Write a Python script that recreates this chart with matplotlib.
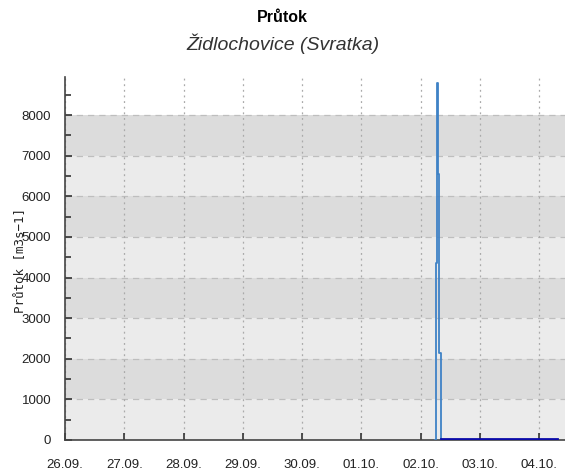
import matplotlib
matplotlib.use('Agg')
import matplotlib.pyplot as plt
import matplotlib.dates as mdates
import pandas as pd

plt.rcParams['font.family'] = ['Liberation Sans', 'DejaVu Sans']

# Step 1 : data
spike_times = ['2024-10-02 05:50', '2024-10-02 06:00', '2024-10-02 06:30',
               '2024-10-02 06:50', '2024-10-02 07:30', '2024-10-02 08:00']
spike_flow = [0, 4360, 8790, 6550, 2150, 0]

base_times = ['2024-10-02 08:10', '2024-10-02 18:00', '2024-10-03 06:00',
              '2024-10-03 18:00', '2024-10-04 07:00']
base_flow = [20, 20, 20, 20, 20]

title = 'Průtok'
subtitle = 'Židlochovice (Svratka)'
ylabel = 'Průtok [m3s\u22121]'

x_start = pd.Timestamp('2024-09-26 00:00')
x_end = pd.Timestamp('2024-10-04 10:22')

spike_t = pd.to_datetime(spike_times)
base_t = pd.to_datetime(base_times)

# Step 2 : figure
fig = plt.figure(figsize=(5.65, 4.72), dpi=100)
ax = fig.add_axes([0.115, 0.068, 0.885, 0.769])

# alternating bands
for lo in range(0, 8000, 1000):
    col = '#EBEBEB' if (lo // 1000) % 2 == 0 else '#DCDCDC'
    ax.axhspan(lo, lo + 1000, color=col, zorder=0, lw=0)
for y in range(1000, 9000, 1000):
    ax.axhline(y, color='#BEBEBE', linestyle=(0, (5, 4)), lw=0.9, zorder=1)

ax.plot(spike_t, spike_flow, color='#3F82C6', lw=1.3, drawstyle='steps-post', zorder=3)
ax.plot(base_t, base_flow, color='#0A0AA8', lw=2, zorder=3)

ax.set_xlim(x_start, x_end)
ax.set_ylim(0, 8940)

ax.xaxis.set_major_locator(mdates.DayLocator())
ax.xaxis.set_major_formatter(mdates.DateFormatter('%d.%m.'))
ax.grid(axis='x', color='#AAAAAA', linestyle=(0, (1.5, 3)), lw=0.9, zorder=1)

ax.set_yticks(range(0, 9000, 1000))
ax.set_yticks(range(500, 9000, 1000), minor=True)

for s in ['top', 'right']:
    ax.spines[s].set_visible(False)
for s in ['left', 'bottom']:
    ax.spines[s].set_color('#444444')
    ax.spines[s].set_linewidth(1.2)

ax.tick_params(axis='both', which='major', direction='in', length=5, width=1.2,
               color='#333333', labelsize=9.5, labelcolor='#222222')
ax.tick_params(axis='y', which='minor', direction='in', length=4, width=1.2, color='#333333')
ax.tick_params(axis='y', which='major', pad=10)
ax.tick_params(axis='x', which='major', pad=14)

fig.text(0.5, 0.962, title, ha='center', va='center', fontsize=11.5, fontweight='bold')
fig.text(0.5, 0.908, subtitle, ha='center', va='center', fontsize=14, style='italic', color='#333333')
fig.text(0.036, 0.448, ylabel, rotation=90, ha='center', va='center', fontsize=9,
         family='DejaVu Sans Mono', color='#222222')

fig.savefig('out.png', dpi=100)
